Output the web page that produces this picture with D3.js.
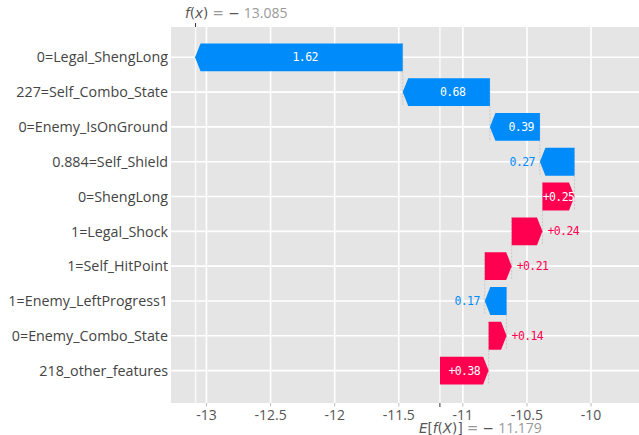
<!DOCTYPE html>
<html>
<head>
<meta charset="utf-8">
<script src="https://cdn.jsdelivr.net/npm/d3@7"></script>
<style>
  html, body { margin: 0; padding: 0; background: #fff; }
  svg { display: block; }
  .ylab { font-family: "Open Sans", "Noto Sans", sans-serif; font-size: 14.3px; fill: #444; }
  .xtick { font-family: "Open Sans", "Noto Sans", sans-serif; font-size: 14px; fill: #555; }
  .val { font-family: "DejaVu Sans Mono", "Liberation Mono", monospace; font-size: 11.5px; letter-spacing: -0.6px; }
  .ann { font-family: "Open Sans", "Noto Sans", sans-serif; font-size: 14px; }
  .math { font-family: "DejaVu Sans", sans-serif; font-size: 13.5px; }
</style>
</head>
<body>
<svg id="chart" width="639" height="435"></svg>
<script>
// Feature contributions for one prediction, listed top to bottom
const features = [
  "0=Legal_ShengLong",
  "227=Self_Combo_State",
  "0=Enemy_IsOnGround",
  "0.884=Self_Shield",
  "0=ShengLong",
  "1=Legal_Shock",
  "1=Self_HitPoint",
  "1=Enemy_LeftProgress1",
  "0=Enemy_Combo_State",
  "218_other_features"
];
const shapValues = [-1.62, -0.68, -0.39, -0.27, 0.25, 0.24, 0.21, -0.17, 0.14, 0.38];
const baseValue = -11.179;   // E[f(X)]
const outputValue = -13.085; // f(x)
const xTicks = [-13, -12.5, -12, -11.5, -11, -10.5, -10];
const xTickLabels = ["-13", "-12.5", "-12", "-11.5", "-11", "-10.5", "-10"];

const POS = "#ff0051", NEG = "#008bfb";

const svg = d3.select("#chart");
const panel = { left: 171, right: 639, top: 27, bottom: 403 };

const x = d3.scaleLinear().domain([-13.2766, -9.626]).range([panel.left, panel.right]);
const y = d3.scalePoint().domain(d3.range(features.length)).range([57.3, 370.6]);
const step = y.step();
const halfH = 0.4 * step;

// Running totals: each bar starts where the one below it ends, beginning at E[f(X)]
const bars = [];
let cum = baseValue;
for (let i = features.length - 1; i >= 0; i--) {
  bars[i] = { i, name: features[i], v: shapValues[i], start: cum, end: cum + shapValues[i] };
  cum += shapValues[i];
}

// Panel background
svg.append("rect")
  .attr("x", panel.left).attr("y", panel.top)
  .attr("width", panel.right - panel.left).attr("height", panel.bottom - panel.top)
  .attr("fill", "#e5e5e5");

const grid = svg.append("g").attr("stroke", "#fff").attr("stroke-width", 1.6);
grid.selectAll("line.v").data(xTicks).join("line")
  .attr("x1", d => x(d)).attr("x2", d => x(d))
  .attr("y1", panel.top).attr("y2", panel.bottom);
grid.selectAll("line.h").data(d3.range(features.length)).join("line")
  .attr("x1", panel.left).attr("x2", panel.right)
  .attr("y1", d => y(d)).attr("y2", d => y(d));
// gridlines of the f(x) and E[f(X)] markers
grid.selectAll("line.m").data([outputValue, baseValue]).join("line")
  .attr("stroke-opacity", 0.75)
  .attr("x1", d => x(d)).attr("x2", d => x(d))
  .attr("y1", panel.top).attr("y2", panel.bottom);

// Dashed connectors between consecutive bars
svg.append("g").selectAll("line").data(bars.slice(0, -1)).join("line")
  .attr("x1", d => x(d.start)).attr("x2", d => x(d.start))
  .attr("y1", d => y(d.i) - halfH).attr("y2", d => y(d.i + 1) + halfH)
  .attr("stroke", "#bbbbbb").attr("stroke-width", 0.7).attr("stroke-dasharray", "2,1.5");

// Arrow shaped bars
const HEAD = 5.5;
function arrowPath(d) {
  const x0 = x(d.start), x1 = x(d.end), cy = y(d.i);
  const dir = Math.sign(x1 - x0);
  const hl = Math.min(HEAD, Math.abs(x1 - x0));
  const xh = x1 - dir * hl;
  return `M${x0},${cy - halfH}L${xh},${cy - halfH}L${x1},${cy}L${xh},${cy + halfH}L${x0},${cy + halfH}Z`;
}
svg.append("g").selectAll("path").data(bars).join("path")
  .attr("d", arrowPath)
  .attr("fill", d => d.v >= 0 ? POS : NEG);

// Value labels: inside the bar when they fit, otherwise beside the arrow tip
const labels = svg.append("g");
const signGap = 12.5; // room kept for the sign of negative values
bars.forEach(d => {
  const txt = d.v >= 0 ? "+" + d.v.toFixed(2) : Math.abs(d.v).toFixed(2);
  const t = labels.append("text").attr("class", "val")
    .attr("y", y(d.i)).attr("dy", "0.36em").text(txt);
  const gap = d.v < 0 ? signGap : 0;
  const w = t.node().getComputedTextLength() + gap;
  const bw = Math.abs(x(d.end) - x(d.start));
  if (w <= bw) {
    const mid = (x(d.start) + x(d.end)) / 2 + gap / 2;
    t.attr("x", mid).attr("text-anchor", "middle").attr("fill", "#fff");
  } else if (d.v >= 0) {
    t.attr("x", x(d.end) + 5).attr("text-anchor", "start").attr("fill", POS);
  } else {
    t.attr("x", x(d.end) - 5).attr("text-anchor", "end").attr("fill", NEG);
  }
});

// Feature names
svg.append("g").selectAll("text").data(features).join("text")
  .attr("class", "ylab")
  .attr("x", 168).attr("y", (d, i) => y(i)).attr("dy", "0.36em")
  .attr("text-anchor", "end").text(d => d);

// Bottom axis
const ax = svg.append("g");
ax.selectAll("line").data(xTicks).join("line")
  .attr("x1", d => x(d)).attr("x2", d => x(d))
  .attr("y1", panel.bottom).attr("y2", panel.bottom + 3.5)
  .attr("stroke", "#bbb").attr("stroke-width", 1);
ax.selectAll("text").data(xTicks).join("text")
  .attr("class", "xtick")
  .attr("x", d => x(d)).attr("y", 420)
  .attr("text-anchor", "middle").text((d, i) => xTickLabels[i]);

// f(x) marker on top
svg.append("line")
  .attr("x1", x(outputValue)).attr("x2", x(outputValue))
  .attr("y1", panel.top - 4).attr("y2", panel.top)
  .attr("stroke", "#333").attr("stroke-width", 1);
const fxText = svg.append("text").attr("x", 185).attr("y", 18);
fxText.append("tspan").attr("class", "math").attr("fill", "#555").attr("font-style", "italic").text("f");
fxText.append("tspan").attr("class", "math").attr("fill", "#555").text("(");
fxText.append("tspan").attr("class", "math").attr("fill", "#555").attr("font-style", "italic").text("x");
fxText.append("tspan").attr("class", "math").attr("fill", "#555").text(")");
fxText.append("tspan").attr("class", "math").attr("fill", "#999").text(" = ");
fxText.append("tspan").attr("class", "math").attr("fill", "#555").text("− ");
fxText.append("tspan").attr("class", "ann").attr("fill", "#999").text(Math.abs(outputValue).toFixed(3));

// E[f(X)] marker at the bottom
svg.append("line")
  .attr("x1", x(baseValue)).attr("x2", x(baseValue))
  .attr("y1", panel.bottom).attr("y2", panel.bottom + 4)
  .attr("stroke", "#333").attr("stroke-width", 1);
const eText = svg.append("text").attr("x", 419).attr("y", 432.5);
eText.append("tspan").attr("class", "math").attr("fill", "#555").attr("font-style", "italic").text("E");
eText.append("tspan").attr("class", "math").attr("fill", "#555").text("[");
eText.append("tspan").attr("class", "math").attr("fill", "#555").attr("font-style", "italic").text("f");
eText.append("tspan").attr("class", "math").attr("fill", "#555").text("(");
eText.append("tspan").attr("class", "math").attr("fill", "#555").attr("font-style", "italic").text("X");
eText.append("tspan").attr("class", "math").attr("fill", "#555").text(")]");
eText.append("tspan").attr("class", "math").attr("fill", "#999").text(" = ");
eText.append("tspan").attr("class", "math").attr("fill", "#555").text("− ");
eText.append("tspan").attr("class", "ann").attr("fill", "#999").text(Math.abs(baseValue).toFixed(3));
</script>
</body>
</html>
